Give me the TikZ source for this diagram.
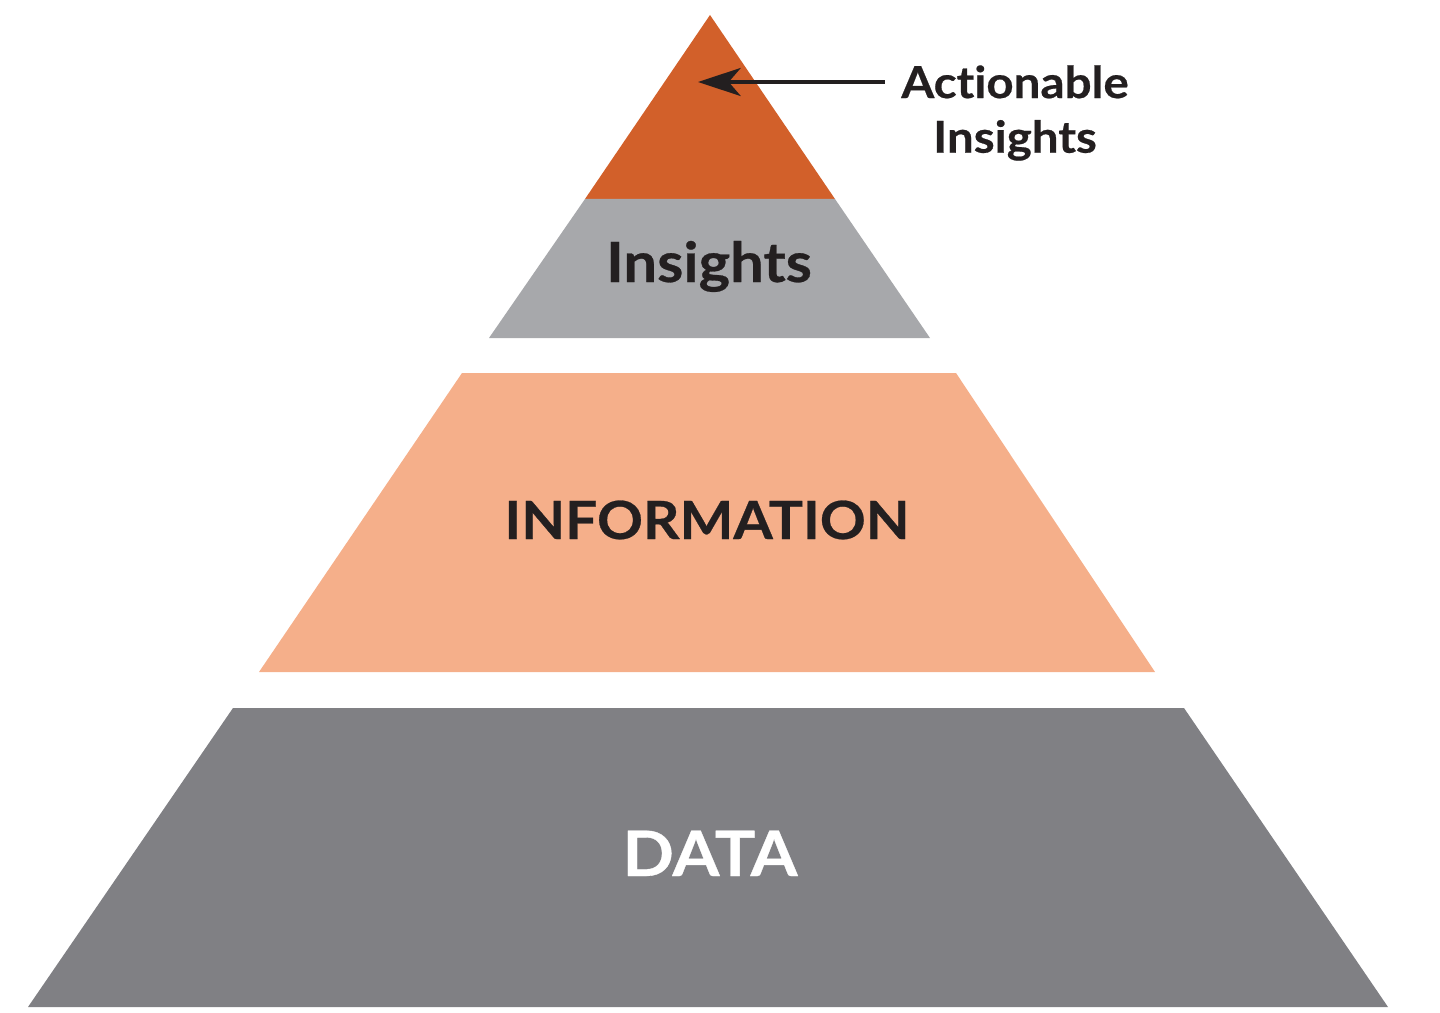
\documentclass[tikz,border=0pt]{standalone}
\usepackage{fontspec}
\setmainfont{Lato}[FakeStretch=1.08, Ligatures=NoCommon, BoldFeatures={FakeBold=0.5}]
\usetikzlibrary{arrows.meta}

\definecolor{topOrange}{RGB}{210,96,42}
\definecolor{insGray}{RGB}{167,168,171}
\definecolor{infoPeach}{RGB}{245,175,138}
\definecolor{dataGray}{RGB}{128,128,132}
\definecolor{inkDark}{RGB}{35,31,32}

\tikzset{every picture/.style={line width=0.75pt}}
\tikzset{
  tierlbl/.style={inner sep=0pt, anchor=base, text=inkDark, font=\bfseries},
  pointer/.style={draw=inkDark, line width=3pt, -{Stealth[length=32pt,width=21pt,inset=9pt]}}
}

\begin{document}
\begin{tikzpicture}[x=0.75pt,y=0.75pt,yscale=-1,xscale=1]
			\useasboundingbox (0,0) rectangle (1440,1013);

			%Shape: Triangle [id:top]
			\fill [topOrange] (710,15) -- (835,199) -- (585,199) -- cycle ;
			%Shape: Trapezoid [id:insights]
			\fill [insGray] (585,199) -- (835,199) -- (930,338) -- (489,338) -- cycle ;
			%Shape: Trapezoid [id:information]
			\fill [infoPeach] (462,373) -- (956,373) -- (1155,672) -- (259,672) -- cycle ;
			%Shape: Trapezoid [id:data]
			\fill [dataGray] (233,708) -- (1184,708) -- (1388,1007) -- (28,1007) -- cycle ;

			% Text Node
			\node [tierlbl, font=\bfseries\fontsize{41.5}{50}\selectfont] (insights) at (709,282) {Insights};
			% Text Node
			\node [tierlbl, font=\bfseries\fontsize{39.5}{48}\selectfont] (information) at (707,539) {INFORMATION};
			% Text Node
			\node [tierlbl, font=\bfseries\fontsize{47}{56}\selectfont, text=white] (data) at (710,876) {DATA};
			% Text Node
			\node [inner sep=0pt, text=inkDark, align=center, font=\bfseries\fontsize{33}{41}\selectfont] (actlbl) at (1015,113) {Actionable\\Insights};

			%Straight Lines [id:arrow]
			\coordinate (tip) at (698,82);
			\draw [pointer, shorten <=12pt] (actlbl.west |- tip) -- (tip) ;

		\end{tikzpicture}
\end{document}
